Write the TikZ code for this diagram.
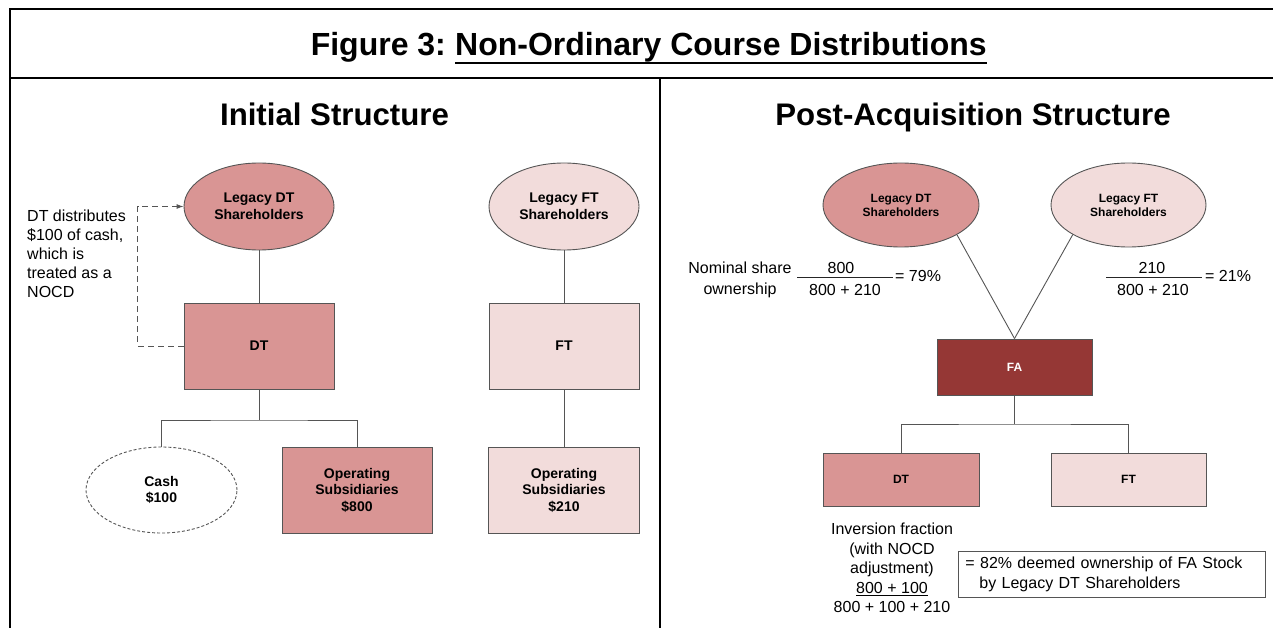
\documentclass[tikz,border=0pt]{standalone}
\usepackage{fontspec}
\setmainfont{Liberation Sans}
\usetikzlibrary{shapes.geometric,arrows.meta,calc}

\definecolor{dtfill}{RGB}{217,149,148}
\definecolor{ftfill}{RGB}{242,220,219}
\definecolor{fafill}{RGB}{149,55,53}
\definecolor{edge}{RGB}{85,85,85}

\begin{document}
\begin{tikzpicture}[x=1pt,y=-1pt,
  frame/.style={line width=2.2pt,black},
  link/.style={draw=edge,line width=0.9pt},
  rulefrac/.style={line width=1.2pt,black!85},
  ttl/.style={font=\bfseries\fontsize{32}{36}\selectfont,inner sep=0},
  head/.style={font=\bfseries\fontsize{31.2}{34}\selectfont,inner sep=0},
  txt/.style={font=\fontsize{16}{20}\selectfont,inner sep=0},
  lbl/.style={font=\bfseries\fontsize{14}{16.5}\selectfont,align=center,inner sep=0},
  slbl/.style={font=\bfseries\fontsize{12}{14}\selectfont,align=center,inner sep=0},
  bigell/.style={ellipse,draw=edge,line width=0.9pt,minimum width=150pt,minimum height=87pt,lbl},
  bigbox/.style={rectangle,draw=edge,line width=0.9pt,minimum width=150pt,minimum height=86pt,lbl},
  smallell/.style={ellipse,draw=edge,line width=0.9pt,minimum width=156pt,minimum height=84pt,slbl},
  smallbox/.style={rectangle,draw=edge,line width=0.9pt,minimum width=155pt,minimum height=53pt,slbl},
]
\useasboundingbox (0,0) rectangle (1273,628);

% outer frame, title band and panel divider
\draw[frame] (10,628) -- (10,9) -- (1280,9);
\draw[frame] (10,78) -- (1280,78);
\draw[frame] (660,78) -- (660,628);

% title
\node[ttl,anchor=base west] (ttlB) at (455,56) {Non-Ordinary Course Distributions};
\node[ttl,anchor=base east] (ttlA) at ($(ttlB.base west)+(-8.9,0)$) {Figure 3:};
\draw[line width=2.4pt] ($(ttlB.base west)+(0,7)$) -- ($(ttlB.base east)+(0,7)$);

% panel headings
\node[head,anchor=base] (hL) at (334.5,126) {Initial Structure};
\node[head,anchor=base] (hR) at (973,126) {Post-Acquisition Structure};

% ---------- initial structure ----------
\node[bigell,fill=dtfill] (ldtL) at (259,206.5) {Legacy DT\\Shareholders};
\node[bigbox,fill=dtfill] (dtL) at (259,346) {DT};
\node[bigell,fill=ftfill] (lftL) at (564,206.5) {Legacy FT\\Shareholders};
\node[bigbox,fill=ftfill] (ftL) at (564,346) {FT};
\node[bigell,fill=white,dashed,dash pattern=on 3pt off 2pt,minimum width=151pt,minimum height=86pt] (cash) at (161.5,490) {Cash\\\$100};
\node[bigbox,fill=dtfill] (op800) at (357,490) {Operating\\Subsidiaries\\\$800};
\node[bigbox,fill=ftfill,minimum width=151pt] (op210) at (564,490) {Operating\\Subsidiaries\\\$210};

\coordinate (jL) at (259,420);
\draw[link] (ldtL.south) -- (dtL.north);
\draw[link] (lftL.south) -- (ftL.north);
\draw[link] (ftL.south) -- (op210.north);
\draw[link] (dtL.south) -- (jL);
\draw[link] (cash.north) |- (jL) -| (op800.north);

% cash distribution back to the shareholders
\draw[link,dash pattern=on 6pt off 4pt,-{Latex[length=7pt,width=5pt]}]
  (dtL.west) -- ++(-46,0) |- (ldtL.west);
\node[txt,anchor=north west,align=left,font=\fontsize{16}{19}\selectfont] (nocd) at (27,209.5)
  {DT distributes\\\$100 of cash,\\which is\\treated as a\\NOCD};

% ---------- post-acquisition structure ----------
\node[smallell,fill=dtfill] (ldtR) at (901,205) {Legacy DT\\Shareholders};
\node[smallell,fill=ftfill,minimum width=155pt] (lftR) at (1128.5,205) {Legacy FT\\Shareholders};
\node[smallbox,fill=fafill,text=white,minimum height=56pt] (fa) at (1014.5,367) {FA};
\node[smallbox,fill=dtfill,minimum width=156pt] (dtR) at (901,479.5) {DT};
\node[smallbox,fill=ftfill] (ftR) at (1128.5,479.5) {FT};

\draw[link] (ldtR.-28) -- (fa.north);
\draw[link] (lftR.-152) -- (fa.north);
\coordinate (jR) at (1014.5,424);
\draw[link] (fa.south) -- (jR);
\draw[link] (dtR.north) |- (jR) -| (ftR.north);

% nominal share ownership fractions
\node[txt,anchor=north,align=center,font=\fontsize{16}{21}\selectfont] (nom) at (740,262) {Nominal share\\ownership};
\node[txt,anchor=base] (nDTnum) at (841,273.7) {800};
\node[txt,anchor=base] (nDTden) at (845,295.2) {800 + 210};
\draw[rulefrac] (797,277.5) -- (893,277.5);
\node[txt,anchor=base west] (nDTres) at (895,281.7) {= 79\%};

\node[txt,anchor=base] (nFTnum) at (1152,273.7) {210};
\node[txt,anchor=base] (nFTden) at (1153,295.5) {800 + 210};
\draw[rulefrac] (1106,277.5) -- (1202,277.5);
\node[txt,anchor=base west] (nFTres) at (1205,281.7) {= 21\%};

% inversion fraction with the NOCD adjustment
\node[txt,anchor=north,align=center,font=\fontsize{16}{19.5}\selectfont] (inv) at (892,523)
  {Inversion fraction\\(with NOCD\\adjustment)\\\underline{800 + 100}\\800 + 100 + 210};
\node[txt,draw=edge,line width=0.9pt,anchor=west,minimum height=46pt,text width=293pt,
      inner xsep=7pt,align=left] (deem) at (958,574)
  {= 82\% deemed ownership of FA Stock\\\hspace*{14pt}by Legacy DT Shareholders};

\end{tikzpicture}
\end{document}
